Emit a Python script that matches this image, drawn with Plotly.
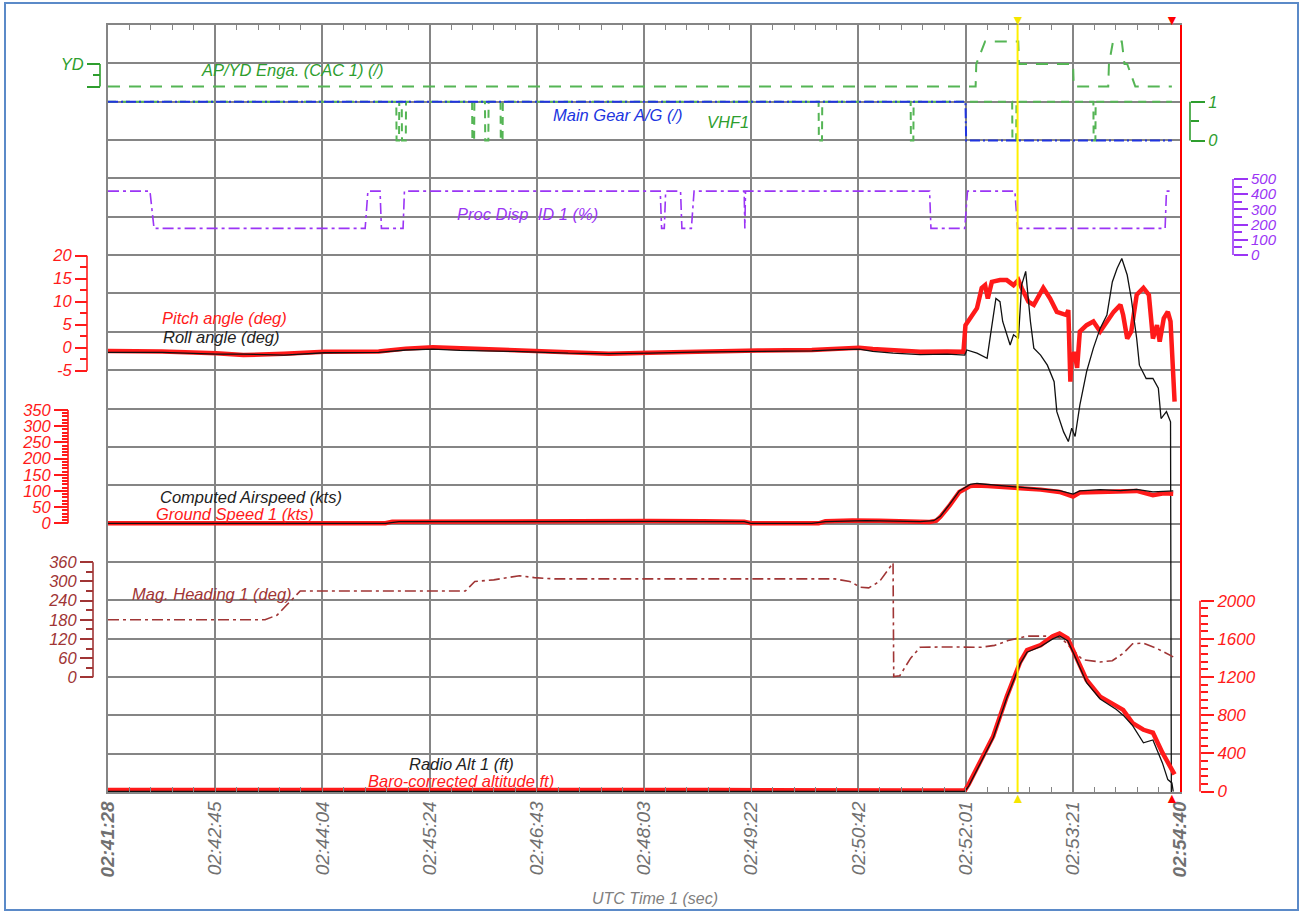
import plotly.graph_objects as go

# ---------------- data (time in seconds after 02:41:28) ----------------
TIME_LABELS = ["<b>02:41:28</b>", "02:42:45", "02:44:04", "02:45:24", "02:46:43",
               "02:48:03", "02:49:22", "02:50:42", "02:52:01", "02:53:21", "<b>02:54:40</b>"]
TIME_SPAN = 792

AP_YD = [(0, 0), (641, 0), (641.5, 1), (648, 2), (672.5, 2), (673, 1), (713, 1), (713.5, 0),
         (739, 0), (739.5, 1), (742.5, 2), (749, 2), (751, 1), (753, 1), (759, 0), (786, 0)]

VHF1 = [(0, 1), (213, 1), (213.2, 0), (215, 0), (215.2, 1), (217, 1), (217.2, 0), (220, 0), (220.2, 1),
        (269, 1), (269.2, 0), (270.5, 0), (270.7, 1), (278.5, 1), (278.7, 0), (281, 0), (281.2, 1),
        (290, 1), (290.2, 0), (291.5, 0), (291.7, 1), (525, 1), (525.2, 0), (527.5, 0), (527.7, 1),
        (593, 1), (593.2, 0), (595, 0), (595.2, 1), (668, 1), (668.2, 0), (671, 0), (671.2, 1),
        (728, 1), (728.2, 0), (729.5, 0), (729.7, 1), (786, 1)]

MAIN_GEAR = [(0, 1), (633.5, 1), (634, 0), (786, 0)]

PROC_DISP = [(0, 420), (31, 420), (34, 175), (190, 175), (192, 420), (201, 420), (202, 175),
             (218, 175), (219, 420), (408, 420), (409, 175), (411, 175), (412, 420), (423, 420),
             (424, 175), (431, 175), (433, 420), (470, 420), (470.5, 175), (471, 420), (607, 420),
             (608, 175), (633, 175), (635, 420), (670, 420), (672, 175), (781, 175), (782, 420), (786, 420)]

PITCH = [(0, -0.7), (40, -0.8), (80, -1.2), (100, -1.6), (130, -1.3), (160, -0.9), (200, -0.8),
         (220, -0.2), (240, 0.1), (260, -0.1), (300, -0.5), (340, -1.0), (370, -1.3), (400, -1.1),
         (440, -0.8), (480, -0.6), (520, -0.5), (540, -0.2), (555, 0.0), (565, -0.3), (580, -0.6),
         (600, -0.9), (620, -0.8), (632, -0.9), (633.5, 4.9), (637, 6.4), (642, 8.6), (645.5, 13),
         (648, 13.6), (650, 10.7), (653, 14.3), (659, 14.7), (664, 14.7), (669, 13.6), (672.6, 14.7),
         (675, 13), (680, 10), (684, 9.3), (691, 13), (696, 10.7), (701, 7.8), (708, 7.1), (709.5, 8.2),
         (711, -7.4), (712, -1), (713, -3), (714, -0.9), (716, -4.4), (718, 3.5), (723, 4.9), (728, 5.7),
         (733, 3.5), (738, 5.7), (743, 7.8), (748, 9.3), (750, 7.1), (753, 2), (756, 3.5), (760, 11.5),
         (765, 13), (769, 11.5), (772, 2), (775, 4.9), (777, 1.3), (780, 6.4), (783, 7.8), (785, 5.7),
         (787, -5.2), (788, -11.7)]

ROLL = [(0, -1.0), (40, -1.0), (80, -1.4), (100, -1.4), (130, -1.6), (160, -1.1), (200, -1.0),
        (220, -0.5), (240, -0.3), (260, -0.6), (300, -0.8), (340, -1.2), (370, -1.3), (400, -1.2),
        (440, -0.9), (480, -0.8), (520, -0.7), (540, -0.4), (555, -0.3), (565, -0.8), (580, -1.2),
        (600, -1.5), (620, -1.4), (633, -1.6), (634.5, -0.5), (642, -1.2), (649.5, -2.3), (652, 2.8),
        (656, 10.7), (659, 10), (661, 5.7), (666.5, 0.6), (669, 2.8), (672.6, 2), (675, 13.6),
        (678, 16.6), (681.5, 5.7), (684, -0.1), (689, -1.6), (694, -3.8), (699, -7.4), (701, -13.9),
        (706, -18.3), (709.5, -20.4), (712, -17.5), (714.5, -19.3), (718, -12.5), (723, -5.2),
        (728, -0.1), (733, 4.2), (738, 7.1), (742, 14.3), (745.5, 17.2), (749, 19.4), (753, 15.8),
        (756, 10.7), (760, 2), (762, -3.8), (767, -6.7), (772, -6.7), (776, -8.8), (778, -15.4),
        (782, -13.9), (785, -16.1), (785.5, -150), (786, -150)]

GROUND_SPEED = [(0, 0), (205, 0), (210, 5), (300, 7), (400, 7), (440, 6), (470, 5), (475, 0),
                (525, 0), (530, 6), (550, 9), (570, 8), (590, 6), (607, 4), (612, 8), (615, 20),
                (622, 56), (629, 97), (637, 115), (641, 117), (650, 115), (664, 111), (674, 109),
                (689, 104), (703, 97), (713, 83), (718, 95), (733, 96), (748, 98), (760, 100),
                (772, 87), (780, 93), (787, 91)]

AIRSPEED = [(0, 0), (205, 0), (215, 5), (300, 6), (400, 6), (470, 5), (475, 0), (520, 0), (530, 5),
            (560, 8), (600, 5), (610, 8), (615, 22), (622, 60), (629, 100), (637, 120), (642, 123),
            (664, 115), (689, 107), (703, 101), (713, 90), (718, 100), (733, 104), (748, 101),
            (760, 105), (772, 97), (787, 100)]

HEADING = [(0, 180), (116, 180), (125, 195), (142, 270), (264, 270), (271, 300), (285, 305),
           (304, 318), (315, 312), (330, 308), (537, 308), (548, 300), (556, 282), (562, 280),
           (570, 300), (580, 358), (580.5, 2), (585, 5), (593, 60), (600, 94), (620, 95), (645, 94),
           (655, 100), (665, 115), (679, 129), (700, 129), (705, 120), (713, 86), (720, 55),
           (733, 48), (742, 52), (750, 75), (757, 105), (765, 107), (775, 90), (787, 64)]

BARO_ALT = [(0, 15), (200, 15), (205, 25), (300, 20), (400, 20), (450, 15), (600, 10), (633, 10),
            (636, 80), (654, 580), (664, 995), (674, 1360), (679, 1482), (689, 1534), (698, 1628),
            (703, 1656), (709, 1606), (713, 1482), (723, 1169), (733, 995), (745, 890), (750, 856),
            (757, 717), (765, 647), (772, 616), (779, 407), (786, 230), (788, 180)]

RADIO_ALT = [(0, 0), (633, 0), (636, 60), (654, 560), (664, 980), (674, 1340), (679, 1460),
             (689, 1520), (698, 1600), (703, 1630), (709, 1580), (713, 1460), (723, 1140), (733, 970),
             (745, 860), (750, 800), (757, 690), (765, 510), (772, 540), (779, 300), (783, 125),
             (786, 90), (787, 0)]

CURSOR_T = 672

# ---------------- layout helpers ----------------
W, H = 1303, 913
TOP, BOT = 25, 792
LEFT, RIGHT = 108, 1180
FONT = "Liberation Sans, Arial, sans-serif"

GRID = "#858585"
RED = "#FF1A1A"
GREEN = "#2E9E2E"
GREEN_L = "#55B555"
BLUE = "#2035E0"
PURPLE = "#9B35F5"
BROWN = "#A03535"


def px(x):
    return x / W


def py(y):
    return (BOT - y) / (BOT - TOP)


def rng(v0, y0, v1, y1):
    s = (y0 - y1) / (v1 - v0)
    return [v0 - (BOT - y0) / s, v0 + (y0 - TOP) / s]


def xs(d):
    return [p[0] for p in d]


def ys(d):
    return [p[1] for p in d]


def ov_axis(r, xpix, side, tv, tt, color, tlen, mv, mlen, fsize=16.5):
    return dict(overlaying="y", anchor="free", position=px(xpix), side=side, range=r,
                tickmode="array", tickvals=tv, ticktext=tt, ticks="outside", ticklen=tlen,
                tickwidth=1.5, tickcolor=color,
                tickfont=dict(color=color, size=fsize, family=FONT, style="italic"),
                showgrid=False, zeroline=False, showline=False, fixedrange=True, automargin=False,
                minor=dict(tickmode="array", tickvals=mv, ticks="outside", ticklen=mlen,
                           tickcolor=color, tickwidth=1.5, showgrid=False))


fig = go.Figure()
# base subplot (carries the grid only)
fig.add_trace(go.Scatter(x=[], y=[], mode="lines", hoverinfo="skip"))


def line(d, ax, color, width, dash="solid"):
    fig.add_trace(go.Scatter(x=xs(d), y=ys(d), yaxis=ax, mode="lines", hoverinfo="skip",
                             line=dict(color=color, width=width, dash=dash)))


line(AP_YD, "y2", GREEN_L, 2, "12px,9px")
line(VHF1, "y3", GREEN_L, 2, "8px,6px")
line(MAIN_GEAR, "y3", BLUE, 2, "10px,3px,2px,3px")
line(PROC_DISP, "y4", PURPLE, 1.6, "11px,4px,3px,4px")
line(PITCH, "y5", RED, 4.5)
line(ROLL, "y5", "#111111", 1.3)
line(GROUND_SPEED, "y6", RED, 4.5)
line(AIRSPEED, "y6", "#111111", 1.3)
line(HEADING, "y7", BROWN, 1.6, "11px,4px,3px,4px")
line(BARO_ALT, "y8", RED, 4.5)
line(RADIO_ALT, "y8", "#111111", 1.3)

step = TIME_SPAN / 10
layout = dict(
    width=W, height=H, margin=dict(l=0, r=0, t=TOP, b=H - BOT, autoexpand=False),
    paper_bgcolor="white", plot_bgcolor="rgba(0,0,0,0)", showlegend=False,
    font=dict(family=FONT),
    xaxis=dict(domain=[px(LEFT), px(RIGHT)], range=[0, TIME_SPAN], tickmode="array",
               tickvals=[i * step for i in range(11)], ticktext=TIME_LABELS, tickangle=-90,
               tickfont=dict(size=19, color="#707070", family=FONT, style="italic"),
               showgrid=True, gridcolor=GRID, gridwidth=1.5, zeroline=False,
               showline=True, linecolor=GRID, linewidth=1.5, mirror="allticks",
               ticks="inside", ticklen=5, tickcolor=GRID, fixedrange=True, automargin=False,
               minor=dict(dtick=step / 5, tick0=0, ticks="inside", ticklen=5,
                          tickcolor=GRID, tickwidth=1, showgrid=False)),
    yaxis=dict(domain=[0, 1], range=[0, 20], tickmode="linear", tick0=0, dtick=1,
               showticklabels=False, ticks="", showgrid=True, gridcolor=GRID, gridwidth=1.5,
               zeroline=False, showline=True, linecolor=GRID, linewidth=1.5, mirror=True,
               fixedrange=True, automargin=False),
    yaxis2=ov_axis(rng(0, 86.5, 1, 64), 100, "left", [0, 1], ["", "YD"], GREEN, 13, [0.5], 7),
    yaxis3=ov_axis(rng(0, 140.5, 1, 101.8), 1190, "right", [0, 1], ["0", "1"], GREEN, 14, [0.5], 8),
    yaxis4=ov_axis(rng(0, 255, 500, 179), 1233, "right", list(range(0, 501, 100)),
                   [str(v) for v in range(0, 501, 100)], PURPLE, 14, list(range(50, 500, 100)), 8, 15),
    yaxis5=ov_axis(rng(0, 347.7, 20, 255.7), 87, "left", list(range(-5, 21, 5)),
                   [str(v) for v in range(-5, 21, 5)], RED, 12, [-2.5, 2.5, 7.5, 12.5, 17.5], 7),
    yaxis6=ov_axis(rng(0, 523.3, 350, 410), 68, "left", list(range(0, 351, 50)),
                   [str(v) for v in range(0, 351, 50)], RED, 14,
                   [v for v in range(10, 350, 10) if v % 50], 6),
    yaxis7=ov_axis(rng(0, 677.3, 360, 562.3), 93, "left", list(range(0, 361, 60)),
                   [str(v) for v in range(0, 361, 60)], BROWN, 13, list(range(30, 360, 60)), 7),
    yaxis8=ov_axis(rng(0, 791.5, 2000, 600.7), 1200, "right", list(range(0, 2001, 400)),
                   [str(v) for v in range(0, 2001, 400)], RED, 13,
                   [v for v in range(80, 2000, 80) if v % 400], 7, 17),
)
fig.update_layout(**layout)

# bracket axis lines
for xpix, ax, lo, hi, col in [(100, "y2", 0, 1, GREEN), (1190, "y3", 0, 1, GREEN),
                              (1233, "y4", 0, 500, PURPLE), (87, "y5", -5, 20, RED),
                              (68, "y6", 0, 350, RED), (93, "y7", 0, 360, BROWN),
                              (1200, "y8", 0, 2000, RED)]:
    fig.add_shape(type="line", xref="paper", yref=ax, x0=px(xpix), x1=px(xpix), y0=lo, y1=hi,
                  line=dict(color=col, width=1.6))

# cursors
fig.add_shape(type="line", xref="x", yref="paper", x0=CURSOR_T, x1=CURSOR_T, y0=0, y1=1,
              line=dict(color="#FFF000", width=2))
fig.add_shape(type="line", xref="paper", yref="paper", x0=px(1181), x1=px(1181), y0=0, y1=1,
              line=dict(color="#FF0000", width=2))
for xr, xv, col in [("x", CURSOR_T, "#F5E600"), ("paper", px(1181), "#FF0000")]:
    fig.add_annotation(xref=xr, yref="paper", x=xv, y=py(20), text="▼", showarrow=False,
                       font=dict(size=14, color=col), yanchor="middle")
    fig.add_annotation(xref=xr, yref="paper", x=xv, y=py(798), text="▲", showarrow=False,
                       font=dict(size=14, color=col), yanchor="middle")

# outer blue frame
fig.add_shape(type="rect", xref="paper", yref="paper", x0=px(5), x1=px(1298), y0=py(910), y1=py(3),
              line=dict(color="#5B8AC8", width=2), layer="below")

# series labels
LABELS = [("AP/YD Enga. (CAC 1) (/)", 292, 70, GREEN),
          ("Main Gear A/G (/)", 618, 115, BLUE),
          ("VHF1", 728, 122, GREEN),
          ("Proc Disp  ID 1 (%)", 527, 214, PURPLE),
          ("Pitch angle (deg)", 224, 318, RED),
          ("Roll angle (deg)", 221, 337, "#222222"),
          ("Computed Airspeed (kts)", 251, 497, "#222222"),
          ("Ground Speed 1 (kts)", 235, 514, RED),
          ("Mag. Heading 1 (deg)", 212, 594, BROWN),
          ("Radio Alt 1 (ft)", 461, 764, "#222222"),
          ("Baro-corrected altitude ft)", 461, 781, RED)]
for txt, x, y, col in LABELS:
    fig.add_annotation(xref="paper", yref="paper", x=px(x), y=py(y), text=txt, showarrow=False,
                       xanchor="center", yanchor="middle",
                       font=dict(size=16.5, color=col, family=FONT, style="italic"))

fig.add_annotation(xref="paper", yref="paper", x=px(655), y=py(898), text="UTC Time 1 (sec)",
                   showarrow=False, xanchor="center", yanchor="middle",
                   font=dict(size=16, color="#808080", family=FONT, style="italic"))

fig.write_html("out.html", config={"displayModeBar": False},
               post_script="document.body.style.margin='0';document.body.style.overflow='hidden';")
